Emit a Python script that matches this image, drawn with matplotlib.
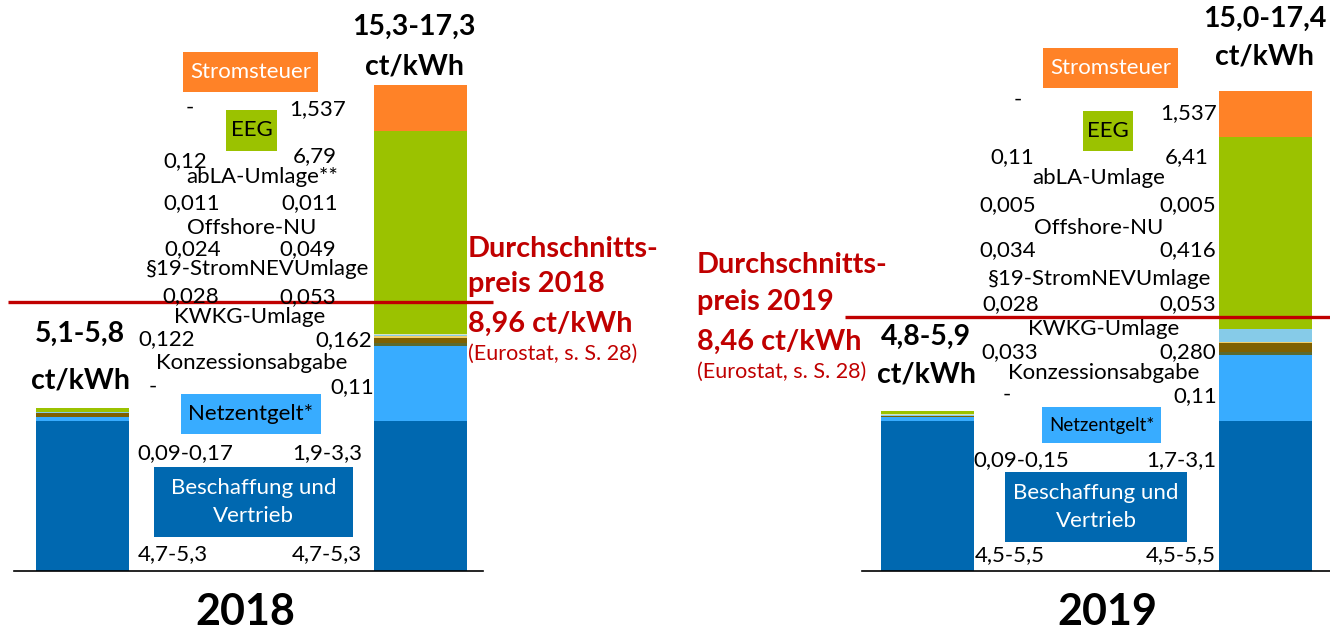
import matplotlib
matplotlib.use("Agg")
import matplotlib.pyplot as plt
from matplotlib.patches import Rectangle

plt.rcParams['font.family'] = ['Lato', 'DejaVu Sans']

# ---------------- data ----------------
components_2018 = ['Beschaffung und\nVertrieb', 'Netzentgelt*', 'Konzessionsabgabe', 'KWKG-Umlage',
                   '§19-StromNEVUmlage', 'Offshore-NU', 'abLA-Umlage**', 'EEG', 'Stromsteuer']
components_2019 = ['Beschaffung und\nVertrieb', 'Netzentgelt*', 'Konzessionsabgabe', 'KWKG-Umlage',
                   '§19-StromNEVUmlage', 'Offshore-NU', 'abLA-Umlage', 'EEG', 'Stromsteuer']
colors = ['#0068b0', '#38acff', '#5b6a2e', '#7f6000', '#f2cf6a', '#86cbe8', '#d9e4c0', '#9bc200', '#ff8227']

values_2018_low = [5.0, 0.13, 0.0, 0.122, 0.028, 0.024, 0.011, 0.12, 0.0]
values_2018_high = [5.0, 2.5, 0.11, 0.162, 0.053, 0.049, 0.011, 6.79, 1.537]
values_2019_low = [5.0, 0.12, 0.0, 0.033, 0.028, 0.034, 0.005, 0.11, 0.0]
values_2019_high = [5.0, 2.2, 0.11, 0.280, 0.053, 0.416, 0.005, 6.41, 1.537]

labels_2018_low = ['4,7-5,3', '0,09-0,17', '-', '0,122', '0,028', '0,024', '0,011', '0,12', '-']
labels_2018_high = ['4,7-5,3', '1,9-3,3', '0,11', '0,162', '0,053', '0,049', '0,011', '6,79', '1,537']
labels_2019_low = ['4,5-5,5', '0,09-0,15', '-', '0,033', '0,028', '0,034', '0,005', '0,11', '-']
labels_2019_high = ['4,5-5,5', '1,7-3,1', '0,11', '0,280', '0,053', '0,416', '0,005', '6,41', '1,537']

avg_2018 = 8.96
avg_2019 = 8.46
total_2018 = ['5,1-5,8\nct/kWh', '15,3-17,3\nct/kWh']
total_2019 = ['4,8-5,9\nct/kWh', '15,0-17,4\nct/kWh']
years = ['2018', '2019']

# ---------------- layout ----------------
W, H = 1330, 630
BASE = 571.0   # pixel row of value 0
SCALE = 30.0   # pixels per ct/kWh

fig = plt.figure(figsize=(W / 100, H / 100), dpi=100)
ax = fig.add_axes([0, 0, 1, 1])
ax.set_xlim(0, W)
ax.set_ylim((BASE - H) / SCALE, BASE / SCALE)
ax.axis('off')


def py(p):
    return (BASE - p) / SCALE


def stack(xc, vals, width=93):
    bottom = 0.0
    for v, c in zip(vals, colors):
        if v > 0:
            ax.bar(xc, v, bottom=bottom, width=width, color=c, edgecolor='none', zorder=2)
        bottom += v


stack(82.5, values_2018_low)
stack(420, values_2018_high)
stack(927, values_2019_low)
stack(1265, values_2019_high)

# baselines
ax.plot([14, 483], [0, 0], color='black', lw=1.2, zorder=3)
ax.plot([862, 1330], [0, 0], color='black', lw=1.2, zorder=3)
# average price lines
RED = '#c00000'
ax.plot([8, 493], [avg_2018, avg_2018], color=RED, lw=2.4, zorder=4, solid_capstyle='butt')
ax.plot([845, 1330], [avg_2019, avg_2019], color=RED, lw=2.4, zorder=4, solid_capstyle='butt')

FS = 16

# label layout per component: (name x, name y) ; low (x, baseline) ; high (x, baseline)
name_pos_2018 = [(253.5, 502), (251, 414), (252, 363), (250, 317), (258, 269), (252, 228), (262, 177),
                 (251.5, 130.5), (250.5, 72)]
low_pos_2018 = [(173, 560), (185, 459), (153, 393), (167, 345), (191, 302), (193, 255), (192, 209),
                (185, 167), (190, 114)]
high_pos_2018 = [(327, 560), (327, 459), (352, 393), (344, 346), (308, 303), (308, 255), (310, 209),
                 (315, 162), (318, 115)]
name_pos_2019 = [(1096, 507), (1101.5, 425), (1104, 373), (1104, 329), (1100, 279), (1099, 228),
                 (1099, 178), (1108, 131), (1110.5, 68)]
low_pos_2019 = [(1010, 561), (1021, 466), (1007, 401), (1010, 358), (1011, 310), (1008, 256), (1008, 211),
                (1012, 163), (1018, 106)]
high_pos_2019 = [(1181, 561), (1181, 466), (1195, 402), (1188, 358), (1188, 310), (1188, 256), (1188, 211),
                 (1187, 163), (1189, 119)]

# boxes: index -> (x0, y0, x1, y1, text colour, text size) in pixels
boxes_2018 = {0: (154, 467, 353, 537, 'white', FS), 1: (181, 394, 321, 434, 'black', FS),
              7: (226, 110, 277, 151, 'black', FS), 8: (183, 52, 318, 92, 'white', FS)}
boxes_2019 = {0: (1005, 472, 1187, 542, 'white', FS), 1: (1042, 407, 1161, 443, 'black', 13.5),
              7: (1083, 111, 1133, 151, 'black', FS), 8: (1043, 48, 1178, 88, 'white', FS)}


def draw_panel(names, name_pos, low_lab, low_pos, high_lab, high_pos, boxes):
    for i, name in enumerate(names):
        if i in boxes:
            x0, y0, x1, y1, tc, fs = boxes[i]
            ax.add_patch(Rectangle((x0, py(y1)), x1 - x0, (y1 - y0) / SCALE, facecolor=colors[i],
                                   edgecolor='none', zorder=2))
            ax.text((x0 + x1) / 2, py((y0 + y1) / 2), name, ha='center', va='center', color=tc,
                    fontsize=fs, linespacing=1.45, zorder=5)
        else:
            x, y = name_pos[i]
            ax.text(x, py(y), name, ha='center', va='center', fontsize=FS, zorder=5)
        x, y = low_pos[i]
        ax.text(x, py(y), low_lab[i], ha='center', va='baseline', fontsize=FS, zorder=5)
        x, y = high_pos[i]
        ax.text(x, py(y), high_lab[i], ha='center', va='baseline', fontsize=FS, zorder=5)


draw_panel(components_2018, name_pos_2018, labels_2018_low, low_pos_2018, labels_2018_high,
           high_pos_2018, boxes_2018)
draw_panel(components_2019, name_pos_2019, labels_2019_low, low_pos_2019, labels_2019_high,
           high_pos_2019, boxes_2019)

# totals
BFS = 20.5
for (x, y1, y2), txt in zip([(80, 342, 388), (414, 35, 75)], total_2018):
    a, b = txt.split('\n')
    ax.text(x, py(y1), a, ha='center', va='baseline', fontsize=BFS, fontweight='bold')
    ax.text(x, py(y2), b, ha='center', va='baseline', fontsize=BFS, fontweight='bold')
for (x, y1, y2), txt in zip([(926, 345, 382), (1265, 27, 64)], total_2019):
    a, b = txt.split('\n')
    ax.text(x, py(y1), a, ha='center', va='baseline', fontsize=BFS, fontweight='bold')
    ax.text(x, py(y2), b, ha='center', va='baseline', fontsize=BFS, fontweight='bold')


# average price annotations
def avg_text(x, ys, year, val):
    lines = ['Durchschnitts-', 'preis ' + year, (f'{val:.2f}').replace('.', ',') + ' ct/kWh']
    for ln, y in zip(lines, ys[:3]):
        ax.text(x, py(y), ln, ha='left', va='baseline', fontsize=20.8, fontweight='bold', color=RED, zorder=5)
    ax.text(x, py(ys[3]), '(Eurostat, s. S. 28)', ha='left', va='baseline', fontsize=15.5, color=RED, zorder=5)


avg_text(468, [257, 292, 332, 360], years[0], avg_2018)
avg_text(697, [273, 310, 350, 378], years[1], avg_2019)

# year labels
ax.text(245, py(625), years[0], ha='center', va='baseline', fontsize=31, fontweight='bold')
ax.text(1107, py(625), years[1], ha='center', va='baseline', fontsize=31, fontweight='bold')

fig.savefig('out.png', dpi=100)
